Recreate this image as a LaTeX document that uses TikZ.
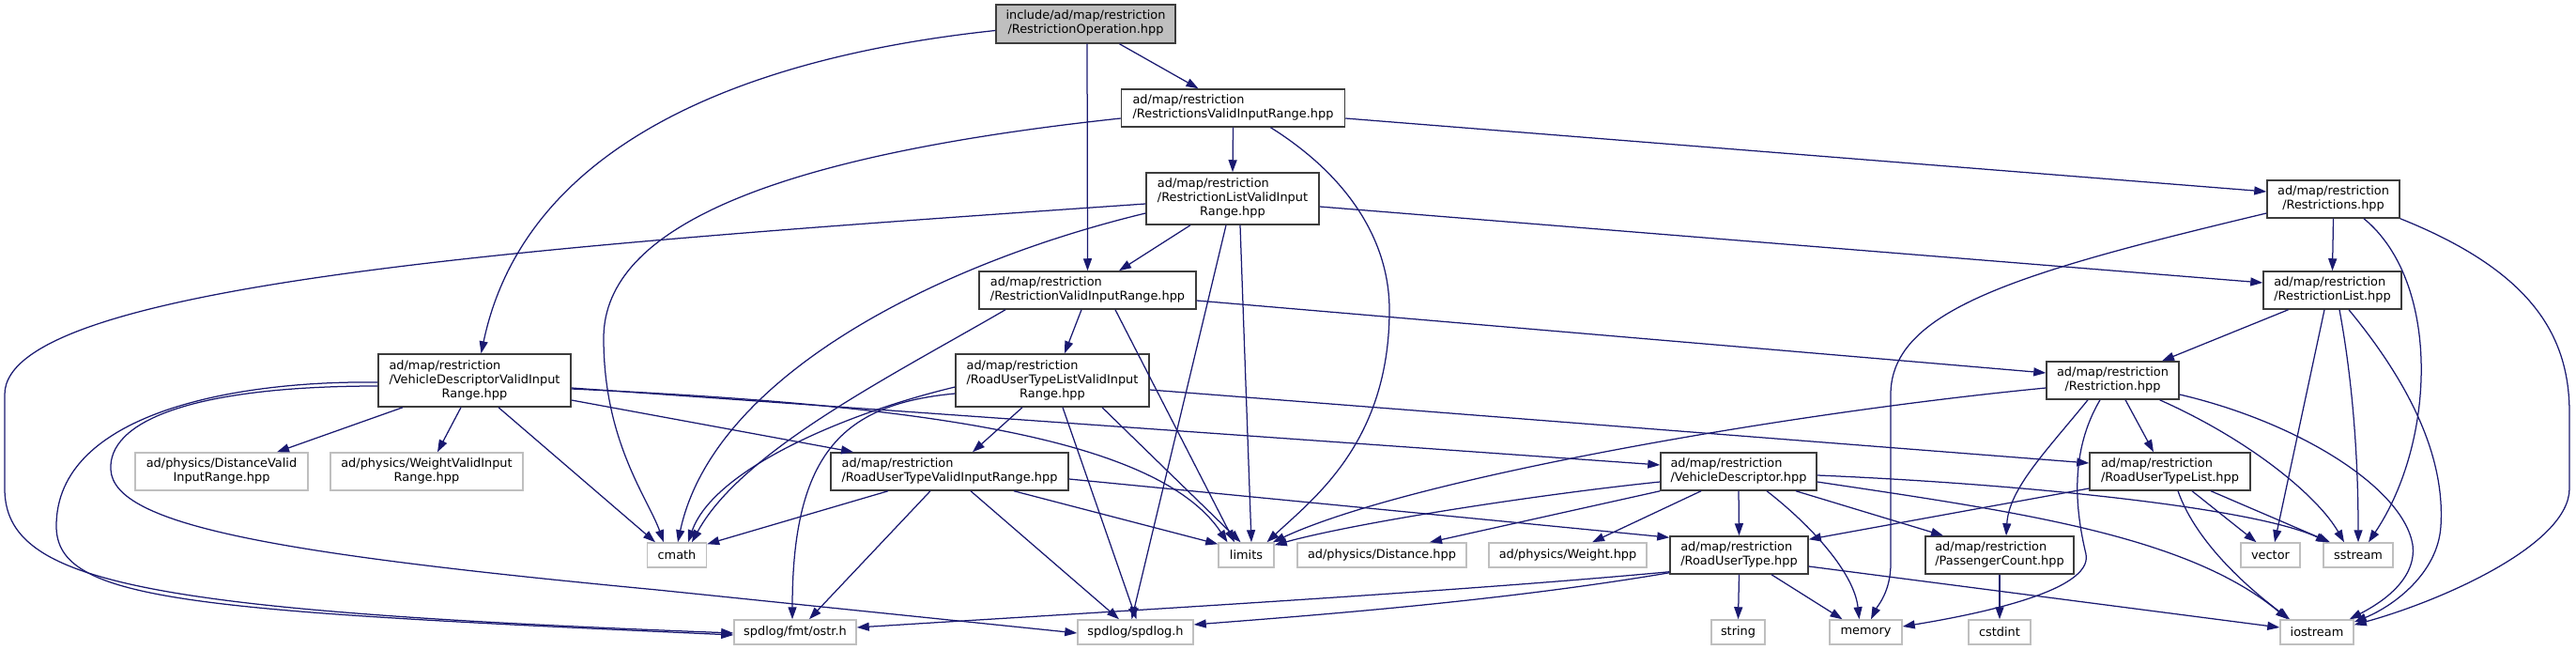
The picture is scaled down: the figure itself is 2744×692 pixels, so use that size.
\documentclass[tikz,border=0pt]{standalone}
\usepackage{fontspec}
\setmainfont{DejaVu Sans}
\usetikzlibrary{arrows.meta}
\definecolor{DoxEdge}{HTML}{191970}
\definecolor{DoxFrame}{HTML}{3C3C3C}
\definecolor{DoxSys}{HTML}{BFBFBF}
\definecolor{DoxRootFill}{HTML}{BFBFBF}
\newcommand{\doxfont}{\fontsize{12.9pt}{15pt}\selectfont}
\newcommand{\doxlabel}[2]{\begin{tabular}{@{}l@{}}#1\\\multicolumn{1}{@{}c@{}}{#2}\end{tabular}}
\tikzset{
  dox file/.style={
    draw=DoxFrame,
    fill=white,
    text=black,
    line width=1.5pt,
    inner sep=0pt,
    minimum height=40pt,
    font=\doxfont
  },
  dox root/.style={
    dox file,
    fill=DoxRootFill
  },
  dox system/.style={
    dox file,
    draw=DoxSys,
    minimum height=26pt
  },
  dox dep/.style={-{Triangle[length=13pt,width=9pt]},draw=DoxEdge,line width=1.25pt}
}

\begin{document}
\begin{tikzpicture}[x=1pt,y=-1pt]
  \useasboundingbox (0,0) rectangle (2744,692);

  \node[dox root,minimum width=191pt,minimum height=41pt] (op) at (1156.5,25.5) {\doxlabel{include/ad/map/restriction}{/RestrictionOperation.hpp}};
  \node[dox file,minimum width=238pt] (rsvir) at (1313.5,115) {\doxlabel{ad/map/restriction}{/RestrictionsValidInputRange.hpp}};
  \node[dox file,minimum width=184pt,minimum height=55pt] (rlvir) at (1313,211.5) {\doxlabel{ad/map/restriction\\/RestrictionListValidInput}{Range.hpp}};
  \node[dox file,minimum width=231pt] (rvir) at (1158.5,309) {\doxlabel{ad/map/restriction}{/RestrictionValidInputRange.hpp}};
  \node[dox file,minimum width=141pt] (rs) at (2485.5,212) {\doxlabel{ad/map/restriction}{/Restrictions.hpp}};
  \node[dox file,minimum width=147pt] (rl) at (2484.5,309) {\doxlabel{ad/map/restriction}{/RestrictionList.hpp}};
  \node[dox file,minimum width=205pt,minimum height=56pt] (vdvir) at (505.5,405) {\doxlabel{ad/map/restriction\\/VehicleDescriptorValidInput}{Range.hpp}};
  \node[dox file,minimum width=206pt,minimum height=56pt] (rutlvir) at (1121,405) {\doxlabel{ad/map/restriction\\/RoadUserTypeListValidInput}{Range.hpp}};
  \node[dox file,minimum width=141pt] (rn) at (2250.5,405) {\doxlabel{ad/map/restriction}{/Restriction.hpp}};
  \node[dox system,minimum width=184pt,minimum height=40pt] (dvir) at (236,502) {\doxlabel{ad/physics/DistanceValid}{InputRange.hpp}};
  \node[dox system,minimum width=205pt,minimum height=40pt] (wvir) at (454.5,502) {\doxlabel{ad/physics/WeightValidInput}{Range.hpp}};
  \node[dox file,minimum width=253pt] (rutvir) at (1011.5,502) {\doxlabel{ad/map/restriction}{/RoadUserTypeValidInputRange.hpp}};
  \node[dox file,minimum width=166pt] (vd) at (1852,502) {\doxlabel{ad/map/restriction}{/VehicleDescriptor.hpp}};
  \node[dox file,minimum width=171pt] (rutl) at (2311.5,502) {\doxlabel{ad/map/restriction}{/RoadUserTypeList.hpp}};
  \node[dox system,minimum width=63pt] (cmath) at (721,591) {cmath};
  \node[dox system,minimum width=59pt] (limits) at (1327.5,591) {limits};
  \node[dox system,minimum width=180pt] (dist) at (1472,591) {ad/physics/Distance.hpp};
  \node[dox system,minimum width=168pt] (wt) at (1670,591) {ad/physics/Weight.hpp};
  \node[dox file,minimum width=147pt] (rut) at (1852.5,591) {\doxlabel{ad/map/restriction}{/RoadUserType.hpp}};
  \node[dox file,minimum width=158pt] (pc) at (2130,591) {\doxlabel{ad/map/restriction}{/PassengerCount.hpp}};
  \node[dox system,minimum width=63pt] (vector) at (2418.5,591) {vector};
  \node[dox system,minimum width=74pt] (sstream) at (2512,591) {sstream};
  \node[dox system,minimum width=130pt] (ostr) at (847,673) {spdlog/fmt/ostr.h};
  \node[dox system,minimum width=123pt] (spdlog) at (1209.5,673) {spdlog/spdlog.h};
  \node[dox system,minimum width=57pt] (string) at (1851.5,673) {string};
  \node[dox system,minimum width=77pt] (memory) at (1987.5,673) {memory};
  \node[dox system,minimum width=66pt] (cstdint) at (2130,673) {cstdint};
  \node[dox system,minimum width=78pt] (iostream) at (2468,673) {iostream};

  \draw[dox dep] ([yshift=-7pt]op.west) .. controls (800,60) and (560,150) .. ([xshift=7pt]vdvir.north);
  \draw[dox dep] ([xshift=36pt]op.south) -- ([xshift=-37pt]rsvir.north);
  \draw[dox dep] ([xshift=1.5pt]op.south) -- (rvir.north);

  \draw[dox dep] (rsvir.south) -- (rlvir.north);
  \draw[dox dep] ([yshift=-11pt]rsvir.east) -- ([yshift=8pt]rs.west);
  \draw[dox dep] ([yshift=-11pt]rsvir.west) .. controls (830,165) and (643,240) .. (643,360) .. controls (643,470) and (690,530) .. ([xshift=-14pt]cmath.north);
  \draw[dox dep] ([xshift=40pt]rsvir.south) .. controls (1440,190) and (1480,260) .. (1480,330) .. controls (1480,470) and (1400,530) .. ([xshift=22pt]limits.north);

  \draw[dox dep] ([xshift=-45pt]rlvir.south) -- ([xshift=33.5pt]rvir.north);
  \draw[dox dep] ([yshift=-8.5pt]rlvir.east) -- ([yshift=8pt]rl.west);
  \draw[dox dep] ([yshift=-5.5pt]rlvir.west) .. controls (600,260) and (5,300) .. (5,420) -- (5,520) .. controls (5,620) and (150,650) .. ([yshift=-1pt]ostr.west);
  \draw[dox dep] ([yshift=-15.5pt]rlvir.west) .. controls (1000,280) and (760,400) .. ([xshift=1pt]cmath.north);
  \draw[dox dep] ([xshift=8pt]rlvir.south) -- ([xshift=5.5pt]limits.north);
  \draw[dox dep] ([xshift=-7pt]rlvir.south) -- ([xshift=-4pt]spdlog.north);

  \draw[dox dep] (rs.south) -- (rl.north);
  \draw[dox dep] ([yshift=-15pt]rs.west) .. controls (2150,290) and (2014,330) .. (2014,420) -- (2014,600) .. controls (2014,630) and (2000,645) .. ([xshift=5.5pt]memory.north);
  \draw[dox dep] ([xshift=32.5pt]rs.south) .. controls (2600,300) and (2595,470) .. ([xshift=11pt]sstream.north);
  \draw[dox dep] (rs.south east) .. controls (2700,290) and (2737,360) .. (2737,440) -- (2737,520) .. controls (2737,580) and (2600,640) .. ([yshift=-6pt]iostream.north east);

  \draw[dox dep] ([xshift=-47pt]rl.south) -- ([xshift=52.5pt]rn.north);
  \draw[dox dep] ([xshift=-8.5pt]rl.south) -- ([xshift=4.5pt]vector.north);
  \draw[dox dep] ([xshift=7.5pt]rl.south) .. controls (2505,400) and (2512,480) .. (sstream.north);
  \draw[dox dep] ([xshift=17.5pt]rl.south) .. controls (2560,400) and (2605,480) .. (2600,560) .. controls (2597,610) and (2550,645) .. ([yshift=-3pt]iostream.north east);

  \draw[dox dep] ([yshift=-11pt]rvir.east) -- ([yshift=8pt]rn.west);
  \draw[dox dep] ([xshift=-6.5pt]rvir.south) -- ([xshift=13pt]rutlvir.north);
  \draw[dox dep] ([xshift=-87.5pt]rvir.south) .. controls (950,400) and (790,480) .. ([xshift=16pt]cmath.north);
  \draw[dox dep] ([xshift=29.5pt]rvir.south) -- ([xshift=-12.5pt]limits.north);

  \draw[dox dep] ([xshift=-76.5pt]vdvir.south) -- ([xshift=59pt]dvir.north);
  \draw[dox dep] ([xshift=-14.5pt]vdvir.south) -- ([xshift=11.5pt]wvir.north);
  \draw[dox dep] ([xshift=25.5pt]vdvir.south) -- ([xshift=-23pt]cmath.north);
  \draw[dox dep] ([yshift=-21pt]vdvir.east) -- ([xshift=-102.5pt]rutvir.north);
  \draw[dox dep] ([yshift=-9pt]vdvir.east) .. controls (950,430) and (1230,460) .. ([xshift=-20pt]limits.north);
  \draw[dox dep] ([yshift=-8pt]vdvir.east) -- ([yshift=7pt]vd.west);
  \draw[dox dep] ([yshift=-2pt]vdvir.west) .. controls (250,405) and (60,440) .. (60,560) .. controls (60,640) and (200,650) .. ([yshift=-3pt]ostr.west);
  \draw[dox dep] ([yshift=-6pt]vdvir.west) .. controls (200,411) and (115,450) .. (118,500) .. controls (121,560) and (300,590) .. (700,628) -- ([yshift=-1pt]spdlog.west);

  \draw[dox dep] ([xshift=-32pt]rutlvir.south) -- ([xshift=24.5pt]rutvir.north);
  \draw[dox dep] ([yshift=-7pt]rutlvir.west) .. controls (900,440) and (760,500) .. ([xshift=12pt]cmath.north);
  \draw[dox dep] ([yshift=-14pt]rutlvir.west) .. controls (900,430) and (844,480) .. ([xshift=-3pt]ostr.north);
  \draw[dox dep] ([xshift=53pt]rutlvir.south) -- ([xshift=-6pt]limits.north);
  \draw[dox dep] ([xshift=11pt]rutlvir.south) -- ([xshift=1pt]spdlog.north);
  \draw[dox dep] ([yshift=-10pt]rutlvir.east) -- ([yshift=9pt]rutl.west);

  \draw[dox dep] ([yshift=-8pt]rn.west) .. controls (1900,440) and (1500,510) .. ([xshift=-2pt]limits.north east);
  \draw[dox dep] ([xshift=13.5pt]rn.south) -- ([xshift=-17.5pt]rutl.north);
  \draw[dox dep] ([xshift=-26.5pt]rn.south) .. controls (2180,480) and (2140,520) .. ([xshift=7pt]pc.north);
  \draw[dox dep] ([xshift=-13.5pt]rn.south) .. controls (2205,480) and (2210,540) .. (2222,590) .. controls (2230,630) and (2100,655) .. ([yshift=6pt]memory.east);
  \draw[dox dep] ([xshift=50pt]rn.south) .. controls (2400,470) and (2470,530) .. ([xshift=-15pt]sstream.north);
  \draw[dox dep] ([yshift=-15pt]rn.east) .. controls (2450,450) and (2560,520) .. (2570,580) .. controls (2575,620) and (2530,645) .. ([xshift=-5pt]iostream.north east);

  \draw[dox dep] ([xshift=-65.5pt]rutvir.south) -- ([yshift=-2pt]cmath.north east);
  \draw[dox dep] ([xshift=-20.5pt]rutvir.south) -- ([xshift=15pt]ostr.north);
  \draw[dox dep] ([xshift=22.5pt]rutvir.south) -- ([xshift=-17.5pt]spdlog.north);
  \draw[dox dep] ([xshift=68.5pt]rutvir.south) -- ([yshift=-2pt]limits.north west);
  \draw[dox dep] ([yshift=-8pt]rutvir.east) -- ([yshift=-2pt]rut.north west);

  \draw[dox dep] ([yshift=-11pt]vd.west) .. controls (1650,525) and (1450,555) .. ([yshift=-3pt]limits.north east);
  \draw[dox dep] (vd.south west) -- ([xshift=51pt]dist.north);
  \draw[dox dep] ([xshift=-40pt]vd.south) -- ([xshift=26pt]wt.north);
  \draw[dox dep] (vd.south) -- (rut.north);
  \draw[dox dep] ([xshift=30pt]vd.south) .. controls (1930,560) and (1975,610) .. ([xshift=-7pt]memory.north);
  \draw[dox dep] ([xshift=61pt]vd.south) -- ([xshift=-60pt]pc.north);
  \draw[dox dep] ([yshift=-4pt]vd.east) .. controls (2150,515) and (2400,540) .. ([xshift=-32pt]sstream.north);
  \draw[dox dep] ([yshift=-11pt]vd.east) .. controls (2150,545) and (2330,570) .. ([xshift=-31pt]iostream.north);

  \draw[dox dep] ([yshift=-18pt]rutl.west) -- ([yshift=-4pt]rut.north east);
  \draw[dox dep] ([xshift=8.5pt]rutl.south) .. controls (2340,580) and (2400,630) .. ([xshift=-29pt]iostream.north);
  \draw[dox dep] ([xshift=23.5pt]rutl.south) -- ([xshift=-15pt]vector.north);
  \draw[dox dep] ([xshift=43.5pt]rutl.south) -- ([xshift=-30pt]sstream.north);

  \draw[dox dep] ([yshift=3pt]rut.south west) .. controls (1550,630) and (1200,650) .. ([yshift=5pt]ostr.east);
  \draw[dox dep] ([yshift=2pt]rut.south west) .. controls (1600,640) and (1400,655) .. ([yshift=8pt]spdlog.east);
  \draw[dox dep] (rut.south) -- (string.north);
  \draw[dox dep] ([xshift=34.5pt]rut.south) -- ([xshift=-25pt]memory.north);
  \draw[dox dep] ([yshift=-12pt]rut.east) -- ([yshift=5pt]iostream.west);

  \draw[dox dep] (pc.south) -- (cstdint.north);
\end{tikzpicture}
\end{document}
